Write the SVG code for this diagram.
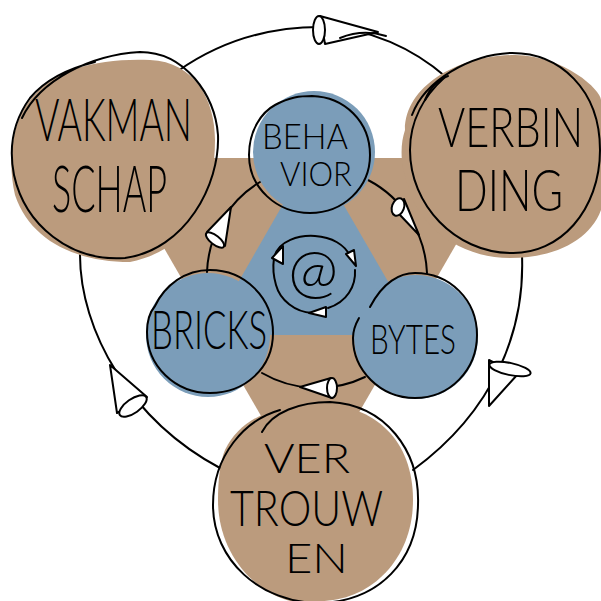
<svg xmlns="http://www.w3.org/2000/svg" width="601" height="601" viewBox="0 0 601 601">
<defs>
<style>
.brown{fill:#BB9B7D;stroke:none}
.blue{fill:#7B9DB9;stroke:none}
.ink{fill:none;stroke:#000;stroke-width:2;stroke-linecap:round;stroke-linejoin:round}
.cone{fill:#fff;stroke:#000;stroke-width:2;stroke-linejoin:round}
.lbl{font-family:"Lato","Liberation Sans",sans-serif;font-weight:300;fill:#000}
</style>
</defs>
<rect width="601" height="601" fill="#fff"/>
<!-- backgrounds -->
<polygon class="brown" points="112,158 506,158 309,499"/>
<polygon class="blue" points="208,335 419,335 313,152"/>

<g id="connectors">
  <!-- outer ring -->
  <path class="ink" d="M178,71 C225,38 275,27 320,27 C370,27 415,50 446,77"/>
  <path class="ink" d="M80,255 C80,330 130,420 220,468"/>
  <path class="ink" d="M522,255 C525,330 495,410 413,470"/>
  <path class="cone" d="M320,16 L378,32 L325,44 Z"/>
  <ellipse class="cone" cx="319" cy="30" rx="6" ry="14"/>
  <path class="ink" d="M340,38 C355,32 370,31 386,36"/>
  <path class="cone" d="M110,365 L117,413 L147,397 Z"/>
  <ellipse class="cone" cx="133" cy="406" rx="16" ry="7" transform="rotate(-35 133 406)"/>
  <path class="cone" d="M489,360 L489,406 L517,375 Z"/>
  <ellipse class="cone" cx="510" cy="369" rx="21" ry="6" transform="rotate(12 510 369)"/>
  <!-- inner ring -->
  <path class="ink" d="M260,182 A110,110 0 0 0 207,272"/>
  <path class="ink" d="M368,180 A110,110 0 0 1 427,273"/>
  <path class="ink" d="M365,377 A110,110 0 0 1 262,373"/>
  <path class="cone" d="M231,207 L207,232 L225,246 Z"/>
  <ellipse class="cone" cx="215" cy="240" rx="11" ry="4.5" transform="rotate(38 215 240)"/>
  <path class="cone" d="M404,199 L419,235 L400,215 Z"/>
  <ellipse class="cone" cx="398" cy="207" rx="6" ry="9" transform="rotate(20 398 207)"/>
  <path class="cone" d="M331,378 L300,387 L332,398 Z"/>
  <ellipse class="cone" cx="332" cy="388" rx="5" ry="10"/>
</g>

<g id="vakmanschap">
  <path class="brown" d="M30,100 C55,68 100,58 150,60 C195,62 215,100 215,140 C215,200 190,250 130,262 C75,262 30,240 15,195 C8,165 10,125 30,100 Z"/>
  <path class="ink" d="M22,118 C40,80 90,55 140,52 C185,52 215,95 218,135 C220,185 185,250 125,258 C70,262 25,225 14,175 C8,145 14,120 30,98 C45,80 70,68 95,62"/>
  <text class="lbl" x="35" y="141" font-size="35" textLength="157" lengthAdjust="spacingAndGlyphs" transform="matrix(1 0 0 1.7 0 -98.7)">VAKMAN</text>
  <text class="lbl" x="52" y="212" font-size="38" textLength="115" lengthAdjust="spacingAndGlyphs" transform="matrix(1 0 0 1.7 0 -148.4)">SCHAP</text>
</g>

<g id="verbinding">
  <path class="brown" d="M405,130 C405,85 460,55 515,55 C565,56 601,90 601,100 L601,210 C590,240 555,258 510,258 C455,258 415,220 408,185 C400,165 400,145 405,130 Z"/>
  <path class="ink" d="M412,115 C425,80 470,55 510,53 C560,52 600,90 600,150 C600,210 560,255 510,253 C455,252 410,205 410,150 C410,120 425,95 445,77"/>
  <path class="ink" d="M425,100 C430,88 437,80 448,76"/>
  <text class="lbl" x="438" y="147" font-size="40" textLength="145" lengthAdjust="spacingAndGlyphs" transform="matrix(1 0 0 1.4 0 -58.8)">VERBIN</text>
  <text class="lbl" x="455" y="211" font-size="42" textLength="108" lengthAdjust="spacingAndGlyphs" transform="matrix(1 0 0 1.36 0 -75.96)">DING</text>
</g>

<g id="vertrouwen">
  <path class="brown" d="M225,450 C240,420 270,405 320,404 C375,405 413,440 413,500 C413,560 370,601 320,601 L290,601 C250,590 218,550 218,500 C218,480 220,462 225,450 Z"/>
  <path class="ink" d="M262,432 C272,412 300,402 330,402 C385,405 420,450 418,505 C417,560 380,601 320,603 C260,603 213,560 213,505 C213,455 245,420 280,410"/>
  <text class="lbl" x="264" y="473" font-size="38" textLength="86" lengthAdjust="spacingAndGlyphs" transform="matrix(1 0 0 1.1 0 -47.3)">VER</text>
  <text class="lbl" x="230" y="526" font-size="44" textLength="153" lengthAdjust="spacingAndGlyphs" transform="matrix(1 0 0 1.1 0 -52.6)">TROUW</text>
  <text class="lbl" x="285" y="573" font-size="40" textLength="63" lengthAdjust="spacingAndGlyphs" transform="matrix(1 0 0 1.05 0 -28.65)">EN</text>
</g>

<g id="behavior">
  <circle class="blue" cx="314" cy="152" r="61"/>
  <path class="ink" d="M275,105 C290,97 300,96 312,96 C345,97 370,122 370,155 C370,188 343,213 310,213 C277,213 249,188 249,155 C249,130 262,112 275,105"/>
  <text class="lbl" x="262" y="149" font-size="32" textLength="86" lengthAdjust="spacingAndGlyphs" transform="matrix(1 0 0 1.125 0 -18.625)">BEHA</text>
  <text class="lbl" x="280" y="186" font-size="30" textLength="72" lengthAdjust="spacingAndGlyphs" transform="matrix(1 0 0 1.13 0 -24.18)">VIOR</text>
</g>

<g id="bricks">
  <circle class="blue" cx="208" cy="335" r="62"/>
  <path class="ink" d="M155,306 C165,285 185,270 210,270 C245,270 273,298 273,333 C273,368 245,393 210,393 C175,393 147,366 147,332 C147,320 150,312 155,306"/>
  <text class="lbl" x="151" y="349" font-size="35" textLength="116" lengthAdjust="spacingAndGlyphs" transform="matrix(1 0 0 1.5 0 -174.5)">BRICKS</text>
</g>

<g id="bytes">
  <circle class="blue" cx="416" cy="337" r="62"/>
  <path class="ink" d="M370,307 C383,282 400,273 415,273 C450,273 477,300 477,335 C477,370 450,398 415,398 C380,398 353,370 353,338 C353,332 355,325 359,318"/>
  <text class="lbl" x="370" y="354" font-size="30" textLength="86" lengthAdjust="spacingAndGlyphs" transform="matrix(1 0 0 1.4 0 -141.6)">BYTES</text>
</g>

<g id="center">
  <path class="ink" d="M274,258 C278,240 300,235 315,236 C332,237 345,245 350,256"/>
  <path class="ink" d="M355,270 C356,286 347,302 328,308"/>
  <path class="ink" d="M312,313 C295,312 280,300 276,285 C273,275 273,265 274,258"/>
  <path class="cone" d="M272,258 L283,246 L283,264 Z"/>
  <path class="cone" d="M346,254 L354,250 L356,266 Z"/>
  <path class="cone" d="M309,313 L326,307 L326,317 Z"/>
  <text class="lbl" x="313" y="292" font-size="60" text-anchor="middle">@</text>
</g>
</svg>
